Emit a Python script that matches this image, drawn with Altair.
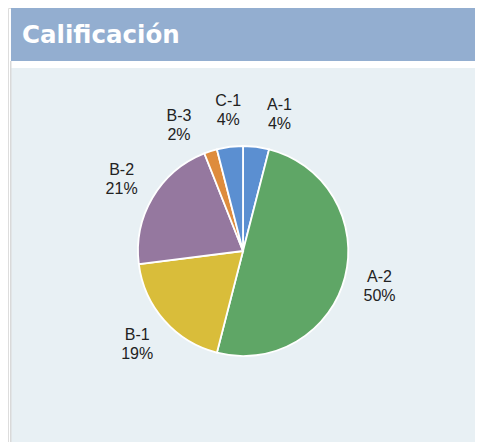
import math
import altair as alt
import pandas as pd

# Data
categories = ["A-1", "A-2", "B-1", "B-2", "B-3", "C-1"]
shares = [4, 50, 19, 21, 2, 4]
colors = ["#5b8fd1", "#5fa666", "#d9bd3a", "#95789f", "#de8c3d", "#5b8fd1"]
title_text = "Calificación"

W, H = 467, 434
CX, CY = 235, 243
R = 105
LABEL_R = 141
MIN_SEP = 21.0  # degrees between neighbouring labels

df = pd.DataFrame({
    "cat": categories,
    "share": shares,
    "idx": list(range(len(categories))),
})
df["label"] = [f"{c}\n{s}%" for c, s in zip(categories, shares)]

# label angles: slice mid-angles, spread apart so that labels do not collide
total = float(sum(shares))
cum = 0.0
mids = []
for s in shares:
    mids.append((cum + s / 2.0) / total * 360.0)
    cum += s
ang = list(mids)
n = len(ang)
for _ in range(300):
    order_ = sorted(range(n), key=lambda i: ang[i] % 360)
    for k in range(n):
        i, j = order_[k], order_[(k + 1) % n]
        d = (ang[j] - ang[i]) % 360
        if d < MIN_SEP:
            push = (MIN_SEP - d) / 2.0
            ang[i] -= push
            ang[j] += push
df["label_angle"] = [a % 360 for a in ang]

one = pd.DataFrame({"a": [0]})

header = alt.Chart(one).mark_rect(color="#93aed0").encode(
    x=alt.value(3), x2=alt.value(W), y=alt.value(0), y2=alt.value(53)
)
panel = alt.Chart(one).mark_rect(color="#e8f0f4").encode(
    x=alt.value(3), x2=alt.value(W), y=alt.value(60), y2=alt.value(H)
)
border = alt.Chart(one).mark_rect(color="#d9d9d9").encode(
    x=alt.value(2), x2=alt.value(3.5), y=alt.value(53), y2=alt.value(H)
)
title = alt.Chart(one).mark_text(
    align="left", baseline="middle", font="DejaVu Sans", fontWeight="bold",
    fontSize=24.5, color="white"
).encode(x=alt.value(14), y=alt.value(27.5), text=alt.value(title_text))

color_scale = alt.Scale(domain=categories, range=colors)

pie = alt.Chart(df).mark_arc(outerRadius=R, stroke="white", strokeWidth=1.8).encode(
    theta=alt.Theta("share:Q", stack=True),
    order=alt.Order("idx:Q"),
    color=alt.Color("cat:N", scale=color_scale, legend=None),
    x=alt.value(CX), y=alt.value(CY),
)

labels = alt.Chart(df).mark_text(
    radius=LABEL_R, font="Liberation Sans", fontSize=16, lineHeight=19,
    lineBreak="\n", align="center", baseline="middle", color="#222222", dy=-9.5
).encode(
    theta=alt.Theta("label_angle:Q", stack=None,
                    scale=alt.Scale(domain=[0, 360], range=[0, 2 * math.pi])),
    text="label:N",
    x=alt.value(CX), y=alt.value(CY),
)

chart = alt.layer(panel, border, header, title, pie, labels).resolve_scale(
    theta="independent"
).properties(
    width=W, height=H, padding=0,
    autosize=alt.AutoSizeParams(type="fit", contains="padding"),
).configure_view(stroke=None).configure(background="white")

chart.save("out.html", embed_options={"renderer": "svg", "actions": False})
